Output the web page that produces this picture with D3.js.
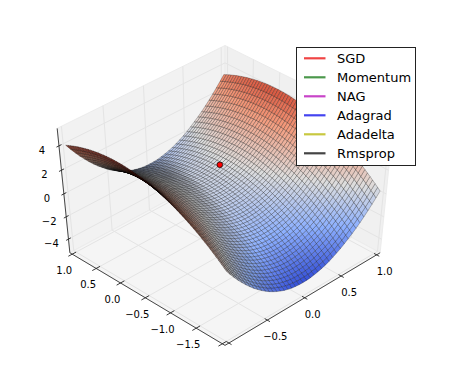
<!DOCTYPE html>
<html>
<head>
<meta charset="utf-8">
<script src="https://cdn.jsdelivr.net/npm/d3@7"></script>
<style>
    html, body { margin: 0; padding: 0; background: #fff; }
    svg { display: block; }
    text { font-family: "DejaVu Sans", sans-serif; fill: #000; }
</style>
</head>
<body>
<div id="chart"></div>
<script>
// grid positions of the surface, one column per x sample, one row per y sample
const xSamples = [-1, -0.95, -0.9, -0.85, -0.8, -0.75, -0.7, -0.65, -0.6, -0.55, -0.5, -0.45, -0.4, -0.35, -0.3, -0.25, -0.2, -0.15, -0.1, -0.05, 0,
    0.05, 0.1, 0.15, 0.2, 0.25, 0.3, 0.35, 0.4, 0.45, 0.5, 0.55, 0.6, 0.65, 0.7, 0.75, 0.8, 0.85, 0.9, 0.95, 1];
const ySamples = [-2, -1.95, -1.9, -1.85, -1.8, -1.75, -1.7, -1.65, -1.6, -1.55, -1.5, -1.45, -1.4, -1.35, -1.3, -1.25, -1.2, -1.15, -1.1, -1.05,
    -1, -0.95, -0.9, -0.85, -0.8, -0.75, -0.7, -0.65, -0.6, -0.55, -0.5, -0.45, -0.4, -0.35, -0.3, -0.25, -0.2, -0.15, -0.1, -0.05, 0,
    0.05, 0.1, 0.15, 0.2, 0.25, 0.3, 0.35, 0.4, 0.45, 0.5, 0.55, 0.6, 0.65, 0.7, 0.75, 0.8, 0.85, 0.9, 0.95, 1];

// height of the surface read along x (at y = 0) and along y (at x = 0)
const heightAlongX = [5, 4.51, 4.05, 3.61, 3.2, 2.81, 2.45, 2.11, 1.8, 1.51, 1.25, 1.01, 0.8, 0.61, 0.45, 0.31, 0.2, 0.11, 0.05, 0.01, 0,
    0.01, 0.04, 0.1, 0.18, 0.28, 0.4, 0.55, 0.72, 0.91, 1.12, 1.36, 1.62, 1.88, 2.16, 2.47, 2.8, 3.15, 3.52, 3.9, 4.3];
const heightAlongY = [-4, -3.8, -3.61, -3.42, -3.24, -3.06, -2.89, -2.72, -2.56, -2.4, -2.25, -2.1, -1.96, -1.82, -1.69, -1.56, -1.44, -1.32, -1.21, -1.1,
    -1, -0.9, -0.81, -0.72, -0.64, -0.56, -0.49, -0.42, -0.36, -0.3, -0.25, -0.2, -0.16, -0.12, -0.09, -0.06, -0.04, -0.02, -0.01, 0, 0,
    0, -0.01, -0.02, -0.04, -0.06, -0.09, -0.12, -0.16, -0.2, -0.25, -0.3, -0.36, -0.42, -0.49, -0.56, -0.64, -0.72, -0.81, -0.9, -1];

const xTicks = [-1, -0.5, 0, 0.5, 1];
const xTickLabels = ["", "\u22120.5", "0.0", "0.5", "1.0"];
const yTicks = [-2, -1.5, -1, -0.5, 0, 0.5, 1];
const yTickLabels = ["", "\u22121.5", "\u22121.0", "\u22120.5", "0.0", "0.5", "1.0"];
const zTicks = [-4, -2, 0, 2, 4];
const zTickLabels = ["\u22124", "\u22122", "0", "2", "4"];

const methods = ["SGD", "Momentum", "NAG", "Adagrad", "Adadelta", "Rmsprop"];
const methodColors = ["#f04444", "#4c984c", "#c844c8", "#4444f0", "#c8c840", "#444444"];

// start of the optimizers
const startPoint = [0.27, 0, 0.35];

const width = 451;
const height = 373;

// axis limits go into a unit cube centred on 0
const xScale = d3.scaleLinear().domain([-1.05, 1.05]).range([-0.5, 0.5]);
const yScale = d3.scaleLinear().domain([-2.05, 1.05]).range([-0.5, 0.5]);
const zScale = d3.scaleLinear().domain([-5.25, 5.4]).range([-0.5, 0.5]);

const colorScale = d3.scaleLinear()
    .domain([0, 0.25, 0.5, 0.75, 1])
    .range(["#3550d8", "#8db0fe", "#dddddd", "#f49a7b", "#c8321f"]);
const zColor = d3.scaleLinear().domain([-4, 5]).range([0, 1]);

// camera: elevation 45, looking at the corner x min / y min
const camDist = 9;
const stretchX = 228;
const stretchY = 175.6;
const centerX = 225;
const centerY = 193;

function depth(x, y, z) {
    return -0.5 * xScale(x) - 0.5 * yScale(y) + Math.SQRT1_2 * zScale(z);
}

function project(x, y, z) {
    const nx = xScale(x), ny = yScale(y), nz = zScale(z);
    const u = (nx - ny) * Math.SQRT1_2;
    const v = 0.5 * nx + 0.5 * ny + Math.SQRT1_2 * nz;
    const k = camDist / (camDist - depth(x, y, z));
    return [centerX + stretchX * u * k, centerY - stretchY * v * k];
}

const [xMin, xMax] = xScale.domain();
const [yMin, yMax] = yScale.domain();
const [zMin, zMax] = zScale.domain();

const svg = d3.select("#chart")
    .append("svg")
    .attr("width", width)
    .attr("height", height);

const toPoints = pts => pts.map(p => project(p[0], p[1], p[2]).join(",")).join(" ");

// back walls and floor
const panes = [
    { fill: "#f2f2f2", pts: [[xMin, yMax, zMin], [xMax, yMax, zMin], [xMax, yMax, zMax], [xMin, yMax, zMax]] },
    { fill: "#f0f0f0", pts: [[xMax, yMin, zMin], [xMax, yMax, zMin], [xMax, yMax, zMax], [xMax, yMin, zMax]] },
    { fill: "#f5f5f5", pts: [[xMin, yMin, zMin], [xMax, yMin, zMin], [xMax, yMax, zMin], [xMin, yMax, zMin]] }
];
svg.append("g").selectAll("polygon")
    .data(panes)
    .enter().append("polygon")
    .attr("points", d => toPoints(d.pts))
    .attr("fill", d => d.fill)
    .attr("stroke", "#ececec")
    .attr("stroke-width", 1);

// grid lines on walls and floor
const gridPaths = [];
xTicks.forEach(t => gridPaths.push([[t, yMin, zMin], [t, yMax, zMin], [t, yMax, zMax]]));
yTicks.forEach(t => gridPaths.push([[xMin, t, zMin], [xMax, t, zMin], [xMax, t, zMax]]));
zTicks.forEach(t => gridPaths.push([[xMin, yMax, t], [xMax, yMax, t], [xMax, yMin, t]]));

const line3d = d3.line();
svg.append("g").selectAll("path")
    .data(gridPaths)
    .enter().append("path")
    .attr("d", d => line3d(d.map(p => project(p[0], p[1], p[2]))))
    .attr("fill", "none")
    .attr("stroke", "#e4e4e4")
    .attr("stroke-width", 1);

// surface cells
const heightAt = (i, j) => heightAlongX[i] + heightAlongY[j];
const cells = [];
for (let i = 0; i < xSamples.length - 1; i++) {
    for (let j = 0; j < ySamples.length - 1; j++) {
        const z00 = heightAt(i, j), z10 = heightAt(i + 1, j), z11 = heightAt(i + 1, j + 1), z01 = heightAt(i, j + 1);
        const dx = xSamples[i + 1] - xSamples[i];
        const dy = ySamples[j + 1] - ySamples[j];
        const zx = ((z10 - z00) + (z11 - z01)) / (2 * dx);
        const zy = ((z01 - z00) + (z11 - z10)) / (2 * dy);
        const xm = (xSamples[i] + xSamples[i + 1]) / 2;
        const ym = (ySamples[j] + ySamples[j + 1]) / 2;
        const zm = (z00 + z10 + z11 + z01) / 4;
        cells.push({
            pts: [[xSamples[i], ySamples[j], z00], [xSamples[i + 1], ySamples[j], z10],
                  [xSamples[i + 1], ySamples[j + 1], z11], [xSamples[i], ySamples[j + 1], z01]],
            z: zm,
            shade: (zx + zy + 0.5) / Math.sqrt(zx * zx + zy * zy + 1),
            depth: depth(xm, ym, zm)
        });
    }
}
cells.sort((a, b) => a.depth - b.depth);

// flat cells keep their full colour, only the side turned away gets darker
const shadeNorm = d3.scaleLinear()
    .domain([d3.min(cells, d => d.shade), 0.3, d3.max(cells, d => d.shade)])
    .range([0.55, 1, 1]);

svg.append("g").selectAll("polygon")
    .data(cells)
    .enter().append("polygon")
    .attr("points", d => toPoints(d.pts))
    .attr("fill", d => {
        const c = d3.rgb(colorScale(zColor(d.z)));
        const s = shadeNorm(d.shade);
        return d3.rgb(c.r * s, c.g * s, c.b * s);
    })
    .attr("stroke", "#000")
    .attr("stroke-opacity", 0.5)
    .attr("stroke-width", 0.5);

// axis lines
const axisLines = [
    [[xMin, yMin, zMin], [xMax, yMin, zMin]],
    [[xMin, yMin, zMin], [xMin, yMax, zMin]],
    [[xMin, yMax, zMin], [xMin, yMax, zMax]]
];
svg.append("g").selectAll("path")
    .data(axisLines)
    .enter().append("path")
    .attr("d", d => line3d(d.map(p => project(p[0], p[1], p[2]))))
    .attr("stroke", "#333")
    .attr("stroke-width", 0.9);

// ticks cross the axis line, labels sit at a fixed offset
const tickLen = 0.05;
const tickData = [];
xTicks.forEach((t, i) => tickData.push({ a: [t, yMin - tickLen, zMin], b: [t, yMin + tickLen, zMin], at: [t, yMin, zMin], label: xTickLabels[i], dx: 8, dy: 20 }));
yTicks.forEach((t, i) => tickData.push({ a: [xMin - tickLen, t, zMin], b: [xMin + tickLen, t, zMin], at: [xMin, t, zMin], label: yTickLabels[i], dx: -8, dy: 20 }));
zTicks.forEach((t, i) => tickData.push({ a: [xMin - tickLen * 0.6, yMax, t], b: [xMin + tickLen * 0.6, yMax, t], at: [xMin, yMax, t], label: zTickLabels[i], dx: -17, dy: 8 }));

svg.append("g").selectAll("path")
    .data(tickData)
    .enter().append("path")
    .attr("d", d => line3d([project(...d.a), project(...d.b)]))
    .attr("stroke", "#222")
    .attr("stroke-width", 0.9);

svg.append("g").selectAll("text")
    .data(tickData)
    .enter().append("text")
    .attr("x", d => project(...d.at)[0] + d.dx)
    .attr("y", d => project(...d.at)[1] + d.dy)
    .attr("text-anchor", "middle")
    .attr("font-size", 10)
    .text(d => d.label);

// start point
svg.append("circle")
    .attr("cx", project(...startPoint)[0])
    .attr("cy", project(...startPoint)[1])
    .attr("r", 2.8)
    .attr("fill", "#f00")
    .attr("stroke", "#000")
    .attr("stroke-width", 0.7);

// legend
const legend = svg.append("g").attr("transform", "translate(296.5, 47.5)");
legend.append("rect")
    .attr("width", 119)
    .attr("height", 118)
    .attr("fill", "#fff")
    .attr("stroke", "#222")
    .attr("stroke-width", 1);

const legendItems = legend.selectAll(".legend-item")
    .data(methods)
    .enter().append("g")
    .attr("class", "legend-item")
    .attr("transform", (d, i) => `translate(0, ${10.8 + i * 19})`);

legendItems.append("line")
    .attr("x1", 7.5)
    .attr("x2", 29)
    .attr("stroke", (d, i) => methodColors[i])
    .attr("stroke-width", 2.2);

legendItems.append("text")
    .attr("x", 40.5)
    .attr("y", 4.7)
    .attr("font-size", 13)
    .text(d => d);
</script>
</body>
</html>
